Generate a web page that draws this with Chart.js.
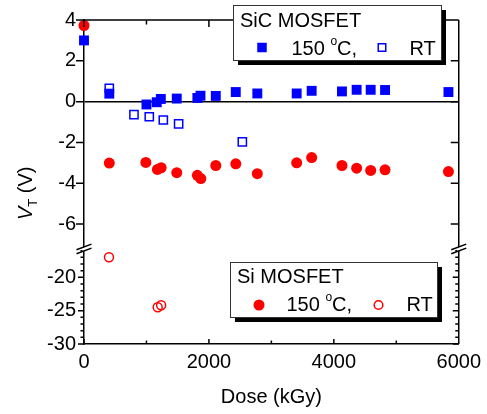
<!DOCTYPE html>
<html>
<head>
<meta charset="utf-8">
<script src="https://cdn.jsdelivr.net/npm/chart.js@4.4.1/dist/chart.umd.min.js"></script>
<style>
html, body { margin: 0; padding: 0; background: #fff; }
</style>
</head>
<body>
<canvas id="c" width="487" height="414"></canvas>
<script>
// SiC MOSFET
var sicHotDose = [0, 405, 1000, 1165, 1230, 1485, 1815, 1865, 2110, 2430, 2775, 3405, 3645, 4130, 4365, 4590, 4820, 5835];
var sicHotVt = [3.0, 0.39, -0.14, -0.03, 0.13, 0.15, 0.18, 0.29, 0.28, 0.47, 0.40, 0.40, 0.53, 0.50, 0.58, 0.58, 0.57, 0.47];
var sicRtDose = [405, 800, 1045, 1270, 1515, 2535];
var sicRtVt = [0.65, -0.64, -0.74, -0.90, -1.09, -1.97];
// Si MOSFET
var siHotDose = [0, 405, 990, 1175, 1235, 1485, 1815, 1870, 2110, 2430, 2775, 3405, 3645, 4130, 4365, 4590, 4820, 5835];
var siHotVt = [3.73, -3.01, -2.98, -3.32, -3.24, -3.48, -3.61, -3.77, -3.13, -3.05, -3.53, -3.00, -2.74, -3.13, -3.26, -3.37, -3.34, -3.43];
var siRtDose = [400, 1180, 1235];
var siRtVt = [-17.0, -24.5, -24.2];

// ticks
var xTicks = [0, 1000, 2000, 3000, 4000, 5000, 6000];
var xTickLabels = ['0', '', '2000', '', '4000', '', '6000'];
var yTopTicks = [-6, -4, -2, 0, 2, 4];
var yTopLabels = ['-6', '-4', '-2', '0', '2', '4'];
var yBotTicks = [-30, -29, -28, -27, -26, -25, -24, -23, -22, -21, -20, -19, -18, -17, -16];
var yBotLabels = ['-30', '', '', '', '', '-25', '', '', '', '', '-20', '', '', '', ''];

var FONT = '"Liberation Sans", Arial, sans-serif';
var BLUE = '#0000ff', RED = '#ff0000';

function pts(xs, ys) {
  return xs.map(function (x, i) { return { x: x, y: ys[i] }; });
}

var framePlugin = {
  id: 'frame',
  afterDraw: function (chart) {
    var ctx = chart.ctx, a = chart.chartArea;
    var sx = chart.scales.x, yt = chart.scales.yTop, yb = chart.scales.yBot;
    var J = yt.bottom;
    ctx.save();
    ctx.strokeStyle = '#000';
    ctx.lineWidth = 1.5;
    ctx.beginPath();
    // top and right frame
    ctx.moveTo(a.left, a.top); ctx.lineTo(a.right, a.top);
    ctx.moveTo(a.right, a.top); ctx.lineTo(a.right, a.bottom);
    // y ticks, left outward, right inward
    yTopTicks.forEach(function (v) {
      var y = yt.getPixelForValue(v);
      ctx.moveTo(a.left - 8, y); ctx.lineTo(a.left, y);
      ctx.moveTo(a.right - 8, y); ctx.lineTo(a.right, y);
    });
    yBotTicks.forEach(function (v) {
      var y = yb.getPixelForValue(v);
      var len = v % 5 === 0 ? 6 : 3.5;
      ctx.moveTo(a.left - len, y); ctx.lineTo(a.left, y);
      ctx.moveTo(a.right - len, y); ctx.lineTo(a.right, y);
    });
    // x ticks, inward on top and bottom
    xTicks.forEach(function (v) {
      var x = sx.getPixelForValue(v);
      var major = v % 2000 === 0;
      ctx.moveTo(x, a.top); ctx.lineTo(x, a.top + (major ? 7 : 4.5));
      ctx.moveTo(x, a.bottom); ctx.lineTo(x, a.bottom - (major ? 5 : 3.5));
    });
    ctx.stroke();

    // axis break marks
    [a.left, a.right].forEach(function (x) {
      ctx.fillStyle = '#fff';
      ctx.fillRect(x - 1.5, J - 2, 3, 4);
      ctx.beginPath();
      ctx.moveTo(x - 7.5, J - 2 + 2.8); ctx.lineTo(x + 7.5, J - 2 - 2.8);
      ctx.moveTo(x - 7.5, J + 2 + 2.8); ctx.lineTo(x + 7.5, J + 2 - 2.8);
      ctx.stroke();
    });

    // y title V_T (V)
    ctx.save();
    ctx.translate(32, 220);
    ctx.rotate(-Math.PI / 2);
    ctx.fillStyle = '#000';
    ctx.textBaseline = 'alphabetic';
    ctx.font = 'italic 20px ' + FONT;
    ctx.fillText('V', 0, 0);
    var w = ctx.measureText('V').width;
    ctx.font = '13px ' + FONT;
    ctx.fillText('T', w, 5);
    w += ctx.measureText('T').width;
    ctx.font = '20px ' + FONT;
    ctx.fillText(' (V)', w, 0);
    ctx.restore();

    // legend boxes
    drawLegend(ctx, 233, 5, 208, 55, 'SiC MOSFET', 240, 27, 55, 'rect', BLUE, 262, 47.5, 382, 47.5, 291.5, 409.5);
    drawLegend(ctx, 230, 262, 207, 55, 'Si MOSFET', 237, 283, 311, 'circle', RED, 259, 305, 378.5, 305, 286.5, 406.5);
    ctx.restore();
  }
};

function drawLegend(ctx, bx, by, bw, bh, title, tx, ty, rowBase, shape, color, m1x, m1y, m2x, m2y, t150x, rtx) {
  ctx.fillStyle = '#000';
  ctx.fillRect(bx + 5, by + 5, bw, bh);
  ctx.fillStyle = '#fff';
  ctx.fillRect(bx, by, bw, bh);
  ctx.strokeStyle = '#333';
  ctx.lineWidth = 1;
  ctx.strokeRect(bx + 0.5, by + 0.5, bw, bh);

  ctx.fillStyle = '#000';
  ctx.textBaseline = 'alphabetic';
  ctx.textAlign = 'left';
  ctx.font = '20px ' + FONT;
  ctx.fillText(title, tx, ty);
  ctx.fillText('150', t150x, rowBase);
  var x = t150x + ctx.measureText('150 ').width;
  ctx.font = '12px ' + FONT;
  ctx.fillText('o', x, rowBase - 10);
  x += ctx.measureText('o').width;
  ctx.font = '20px ' + FONT;
  ctx.fillText('C,', x, rowBase);
  ctx.fillText('RT', rtx, rowBase);

  ctx.fillStyle = color;
  ctx.strokeStyle = color;
  ctx.lineWidth = 1.5;
  if (shape === 'rect') {
    ctx.fillRect(m1x - 4.75, m1y - 4.75, 9.5, 9.5);
    ctx.strokeRect(m2x - 3.75, m2y - 3.75, 7.5, 7.5);
  } else {
    ctx.beginPath(); ctx.arc(m1x, m1y, 5.5, 0, Math.PI * 2); ctx.fill();
    ctx.beginPath(); ctx.arc(m2x, m2y, 4.3, 0, Math.PI * 2); ctx.stroke();
  }
}

new Chart(document.getElementById('c'), {
  type: 'scatter',
  data: {
    datasets: [
      { label: 'SiC 150 °C', data: pts(sicHotDose, sicHotVt), yAxisID: 'yTop', pointStyle: 'rect',
        pointRadius: 7, backgroundColor: BLUE, borderColor: BLUE, borderWidth: 0, clip: false },
      { label: 'SiC RT', data: pts(sicRtDose, sicRtVt), yAxisID: 'yTop', pointStyle: 'rect',
        pointRadius: 5.8, backgroundColor: '#fff', borderColor: BLUE, borderWidth: 1.5, clip: false },
      { label: 'Si 150 °C', data: pts(siHotDose, siHotVt), yAxisID: 'yTop', pointStyle: 'circle',
        pointRadius: 5.5, backgroundColor: RED, borderColor: RED, borderWidth: 0, clip: false },
      { label: 'Si RT', data: pts(siRtDose, siRtVt), yAxisID: 'yBot', pointStyle: 'circle',
        pointRadius: 4.5, backgroundColor: 'rgba(0,0,0,0)', borderColor: RED, borderWidth: 1.5, clip: false }
    ]
  },
  options: {
    responsive: false,
    animation: false,
    events: [],
    layout: { padding: { left: 0, right: 28, top: 16, bottom: 0 } },
    plugins: { legend: { display: false }, tooltip: { enabled: false } },
    scales: {
      x: {
        type: 'linear', min: 0, max: 6000,
        afterBuildTicks: function (s) { s.ticks = xTicks.map(function (v) { return { value: v }; }); },
        afterFit: function (s) { s.height = 70; },
        ticks: { autoSkip: false, maxRotation: 0, padding: 6, color: '#000', font: { family: FONT, size: 20 },
          callback: function (v, i) { return xTickLabels[i]; } },
        grid: { display: false, drawTicks: false },
        border: { display: true, color: '#000', width: 1.5 },
        title: { display: true, text: 'Dose (kGy)', color: '#000', font: { family: FONT, size: 20 }, padding: { top: 0, bottom: 5 } }
      },
      // bottom part of the broken axis is listed first so it is stacked below
      yBot: {
        type: 'linear', position: 'left', stack: 'v', stackWeight: 96.3, min: -30, max: -15.75,
        afterBuildTicks: function (s) { s.ticks = yBotTicks.map(function (v) { return { value: v }; }); },
        afterFit: function (s) { s.width = 84; },
        ticks: { autoSkip: false, padding: 8, color: '#000', font: { family: FONT, size: 20 },
          callback: function (v, i) { return yBotLabels[i]; } },
        grid: { display: false, drawTicks: false },
        border: { display: true, color: '#000', width: 1.5 }
      },
      yTop: {
        type: 'linear', position: 'left', stack: 'v', stackWeight: 232, min: -7.22, max: 4,
        afterBuildTicks: function (s) { s.ticks = yTopTicks.map(function (v) { return { value: v }; }); },
        afterFit: function (s) { s.width = 84; },
        ticks: { padding: 8, color: '#000', font: { family: FONT, size: 20 },
          callback: function (v, i) { return yTopLabels[i]; } },
        grid: { display: true, drawTicks: false, lineWidth: 1.5,
          color: function (c) { return c.tick && c.tick.value === 0 ? '#000' : 'rgba(0,0,0,0)'; } },
        border: { display: true, color: '#000', width: 1.5 }
      }
    }
  },
  plugins: [framePlugin]
});
</script>
</body>
</html>
